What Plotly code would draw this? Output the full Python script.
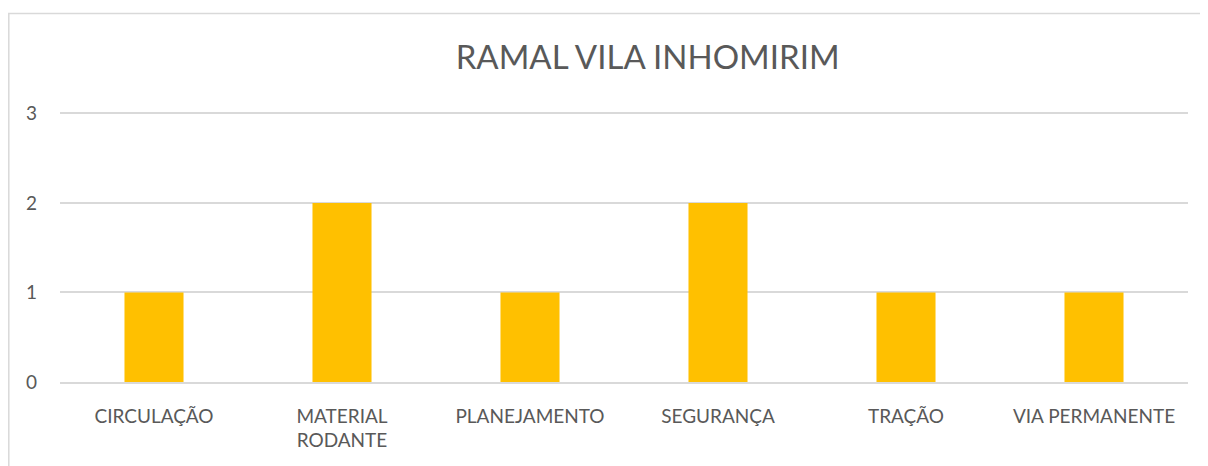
import plotly.graph_objects as go

categories = ["CIRCULAÇÃO", "MATERIAL<br>RODANTE", "PLANEJAMENTO", "SEGURANÇA", "TRAÇÃO", "VIA PERMANENTE"]
values = [1, 2, 1, 2, 1, 1]
y_ticks = [0, 1, 2, 3]

font_family = "Lato, Open Sans, sans-serif"
gray = "#595959"

fig = go.Figure(go.Bar(x=categories, y=values, marker_color="#FFC000", marker_line_width=0))

fig.update_layout(
    width=1200, height=458,
    margin=dict(l=52, r=20, t=101, b=84),
    paper_bgcolor="white", plot_bgcolor="white",
    bargap=0.686,
    showlegend=False,
    font=dict(family=font_family, color=gray, size=19),
    title=dict(text="RAMAL VILA INHOMIRIM", x=0.533, xanchor="center", y=0.892, yanchor="middle",
               font=dict(family=font_family, size=33, color=gray)),
)
fig.update_xaxes(showgrid=False, showline=True, linecolor="#D9D9D9", linewidth=1.5,
                 tickfont=dict(size=19, color=gray), ticklabelstandoff=16)
fig.update_yaxes(range=[0, 3.05], tickvals=y_ticks, showgrid=True, gridcolor="#D9D9D9", gridwidth=1.5,
                 zeroline=False, showline=False, tickfont=dict(size=19, color=gray),
                 ticklabelstandoff=22)
fig.add_shape(type="rect", xref="paper", yref="paper", x0=-0.0454, x1=1.0151, y0=-0.352, y1=1.35,
              line=dict(color="#D9D9D9", width=1.5), fillcolor="rgba(0,0,0,0)", layer="below")

fig.write_html("out.html")
